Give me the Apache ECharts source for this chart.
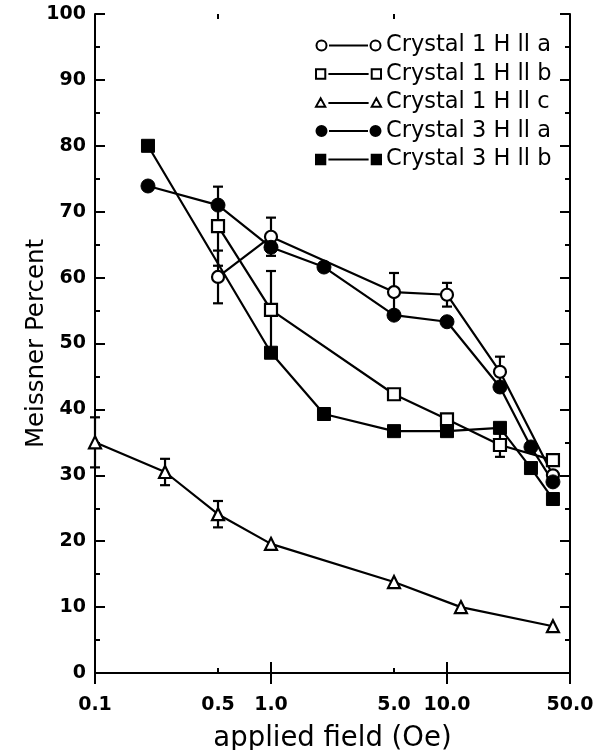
<!DOCTYPE html>
<html>
<head>
<meta charset="utf-8">
<script src="https://cdn.jsdelivr.net/npm/echarts@6/dist/echarts.min.js"></script>
<style>
  html, body { margin: 0; padding: 0; background: #ffffff; }
  #chart { width: 601px; height: 750px; }
</style>
</head>
<body>
<div id="chart"></div>
<script>
// Meissner fraction of crystals 1 and 3 against applied field (log scale)

const fieldLabelValues = [0.1, 0.5, 1, 5, 10, 50];
const fieldMinorTicks = [0.5, 5];

const seriesNames = [
  'Crystal 1 H ll a',
  'Crystal 1 H ll b',
  'Crystal 1 H ll c',
  'Crystal 3 H ll a',
  'Crystal 3 H ll b'
];

// Crystal 1, H ll a (open circles)
const field1a = [0.5, 1, 5, 10, 20, 40];
const pct1a   = [60.1, 66.2, 57.8, 57.4, 45.7, 30.0];
const err1a   = [4.0, 2.9, 2.9, 1.8, 2.3, 0];

// Crystal 1, H ll b (open squares)
const field1b = [0.5, 1, 5, 10, 20, 40];
const pct1b   = [67.8, 55.1, 42.3, 38.5, 34.6, 32.3];
const err1b   = [6.0, 5.9, 0, 0, 1.8, 0];

// Crystal 1, H ll c (open triangles)
const field1c = [0.1, 0.25, 0.5, 1, 5, 12, 40];
const pct1c   = [35.0, 30.5, 24.1, 19.6, 13.8, 10.0, 7.1];
const err1c   = [3.8, 2.0, 2.0, 0, 0, 0, 0];

// Crystal 3, H ll a (filled circles)
const field3a = [0.2, 0.5, 1, 2, 5, 10, 20, 30, 40];
const pct3a   = [73.9, 71.0, 64.6, 61.6, 54.3, 53.3, 43.4, 34.3, 29.0];

// Crystal 3, H ll b (filled squares)
const field3b = [0.2, 1, 2, 5, 10, 20, 30, 40];
const pct3b   = [80.0, 48.6, 39.3, 36.7, 36.7, 37.2, 31.1, 26.4];

const INK = '#000000';
const FONT = "'DejaVu Sans', sans-serif";

function pairs(xs, ys) {
  return xs.map((x, i) => [x, ys[i]]);
}

function errorRows(xs, ys, es) {
  const rows = [];
  xs.forEach((x, i) => {
    if (es[i] > 0) rows.push([x, ys[i] - es[i], ys[i] + es[i]]);
  });
  return rows;
}

const errorData = []
  .concat(errorRows(field1a, pct1a, err1a))
  .concat(errorRows(field1b, pct1b, err1b))
  .concat(errorRows(field1c, pct1c, err1c));

const hollow = { color: '#ffffff', borderColor: INK, borderWidth: 2.2 };
const solid = { color: INK, borderColor: INK, borderWidth: 1 };

// legend icons: marker, connecting line, marker
const iconCircle = 'path://M0.5,5.5A5,5 0 1,1 10.5,5.5A5,5 0 1,1 0.5,5.5Z M13,5.5L52,5.5 M54.5,5.5A5,5 0 1,1 64.5,5.5A5,5 0 1,1 54.5,5.5Z';
const iconSquare = 'path://M1,1L10,1L10,10L1,10Z M13,5.5L52,5.5 M55,1L64,1L64,10L55,10Z';
const iconTriangle = 'path://M1,10L5.5,2L10,10Z M13,6.5L52,6.5 M55,10L59.5,2L64,10Z';

function lineSeries(name, data, symbol, size, style) {
  return {
    name: name,
    type: 'line',
    data: data,
    symbol: symbol,
    symbolSize: size,
    showAllSymbol: true,
    clip: false,
    z: 3,
    lineStyle: { color: INK, width: 2.2 },
    itemStyle: style,
    emphasis: { disabled: true },
    animation: false
  };
}

const logAxisBase = {
  type: 'log',
  logBase: 10,
  min: 0.1,
  max: 50,
  splitLine: { show: false },
  minorSplitLine: { show: false }
};

const chart = echarts.init(document.getElementById('chart'), null, { renderer: 'canvas' });

chart.setOption({
  backgroundColor: '#ffffff',
  animation: false,
  grid: { left: 95, right: 31, top: 14, bottom: 77, outerBoundsMode: 'none' },
  legend: {
    orient: 'vertical',
    left: 315,
    top: 34,
    padding: 0,
    itemGap: 5.5,
    itemWidth: 65,
    itemHeight: 10,
    selectedMode: false,
    textStyle: { fontFamily: FONT, fontSize: 22.5, color: INK, lineHeight: 22 },
    data: [
      { name: seriesNames[0], icon: iconCircle, itemStyle: { color: '#ffffff', borderColor: INK, borderWidth: 2 } },
      { name: seriesNames[1], icon: iconSquare, itemStyle: { color: '#ffffff', borderColor: INK, borderWidth: 2 } },
      { name: seriesNames[2], icon: iconTriangle, itemStyle: { color: '#ffffff', borderColor: INK, borderWidth: 2 } },
      { name: seriesNames[3], icon: iconCircle, itemStyle: { color: INK, borderColor: INK, borderWidth: 2 } },
      { name: seriesNames[4], icon: iconSquare, itemStyle: { color: INK, borderColor: INK, borderWidth: 2 } }
    ]
  },
  xAxis: [
    Object.assign({}, logAxisBase, {
      position: 'bottom',
      name: 'applied field (Oe)',
      nameLocation: 'middle',
      nameGap: 52,
      nameMoveOverlap: false,
      nameTextStyle: { fontFamily: FONT, fontSize: 27.5, color: INK },
      axisLine: { show: true, lineStyle: { color: INK, width: 2 } },
      axisTick: { show: true, inside: true, length: 11, lineStyle: { color: INK, width: 2 } },
      axisLabel: {
        show: true,
        customValues: fieldLabelValues,
        margin: 23,
        fontFamily: FONT,
        fontSize: 19,
        fontWeight: 'bold',
        color: INK,
        formatter: v => Number(v).toFixed(1)
      }
    }),
    Object.assign({}, logAxisBase, {
      position: 'top',
      axisLine: { show: true, lineStyle: { color: INK, width: 2 } },
      axisTick: { show: true, inside: true, length: 11, lineStyle: { color: INK, width: 2 } },
      axisLabel: { show: false }
    }),
    Object.assign({}, logAxisBase, {
      position: 'bottom',
      axisLine: { show: false },
      axisTick: { show: true, inside: true, length: 5, customValues: fieldMinorTicks, lineStyle: { color: INK, width: 2 } },
      axisLabel: { show: false }
    }),
    Object.assign({}, logAxisBase, {
      position: 'top',
      axisLine: { show: false },
      axisTick: { show: true, inside: true, length: 5, customValues: fieldMinorTicks, lineStyle: { color: INK, width: 2 } },
      axisLabel: { show: false }
    })
  ],
  yAxis: [
    {
      type: 'value',
      position: 'left',
      min: 0,
      max: 100,
      interval: 10,
      name: 'Meissner Percent',
      nameLocation: 'middle',
      nameRotate: 90,
      nameGap: 46,
      nameMoveOverlap: false,
      nameTextStyle: { fontFamily: FONT, fontSize: 24.5, color: INK },
      axisLine: { show: true, lineStyle: { color: INK, width: 2 } },
      axisTick: { show: true, inside: true, length: 10, lineStyle: { color: INK, width: 2 } },
      minorTick: { show: true, splitNumber: 2, length: 5, lineStyle: { color: INK, width: 2 } },
      splitLine: { show: false },
      minorSplitLine: { show: false },
      axisLabel: { margin: 9, fontFamily: FONT, fontSize: 19, fontWeight: 'bold', color: INK }
    },
    {
      type: 'value',
      position: 'right',
      min: 0,
      max: 100,
      interval: 10,
      axisLine: { show: true, lineStyle: { color: INK, width: 2 } },
      axisTick: { show: true, inside: true, length: 10, lineStyle: { color: INK, width: 2 } },
      minorTick: { show: true, splitNumber: 2, length: 5, lineStyle: { color: INK, width: 2 } },
      splitLine: { show: false },
      minorSplitLine: { show: false },
      axisLabel: { show: false }
    }
  ],
  series: [
    {
      name: 'error bars',
      type: 'custom',
      xAxisIndex: 0,
      yAxisIndex: 0,
      z: 1,
      silent: true,
      data: errorData,
      encode: { x: 0, y: [1, 2] },
      renderItem: function (params, api) {
        const x = api.value(0);
        const lo = api.coord([x, api.value(1)]);
        const hi = api.coord([x, api.value(2)]);
        const half = 5;
        const st = { stroke: INK, lineWidth: 2.2 };
        return {
          type: 'group',
          children: [
            { type: 'line', shape: { x1: lo[0], y1: lo[1], x2: hi[0], y2: hi[1] }, style: st },
            { type: 'line', shape: { x1: lo[0] - half, y1: lo[1], x2: lo[0] + half, y2: lo[1] }, style: st },
            { type: 'line', shape: { x1: hi[0] - half, y1: hi[1], x2: hi[0] + half, y2: hi[1] }, style: st }
          ]
        };
      }
    },
    lineSeries(seriesNames[0], pairs(field1a, pct1a), 'circle', 12, hollow),
    lineSeries(seriesNames[1], pairs(field1b, pct1b), 'rect', 12, hollow),
    lineSeries(seriesNames[2], pairs(field1c, pct1c), 'triangle', 12, hollow),
    lineSeries(seriesNames[3], pairs(field3a, pct3a), 'circle', 14, solid),
    lineSeries(seriesNames[4], pairs(field3b, pct3b), 'rect', 13, solid)
  ]
});
</script>
</body>
</html>
